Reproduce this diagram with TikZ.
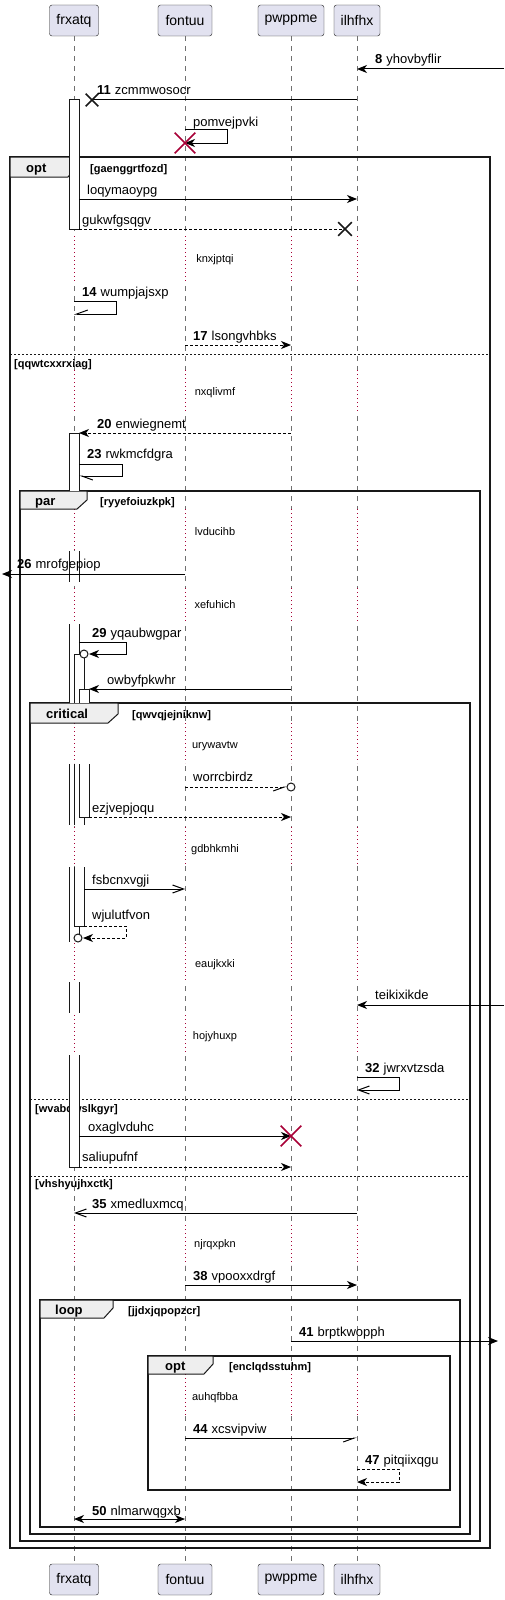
\documentclass[tikz,border=0pt]{standalone}
\usepackage{fontspec}
\setmainfont{Liberation Sans}
\usetikzlibrary{arrows.meta,shapes.misc}
\definecolor{partfill}{HTML}{E2E2F0}
\definecolor{partline}{HTML}{181818}
\definecolor{delayred}{HTML}{A80036}
\definecolor{tabfill}{HTML}{EEEEEE}
\definecolor{lifegray}{HTML}{707070}
\newcommand{\actbar}[4]{\fill[white] (#1,#3) rectangle (#2,#4); \draw[actline] (#1,#3) -- (#1,#4) (#2,#3) -- (#2,#4);}

\begin{document}
\begin{tikzpicture}[x=1pt,y=-1pt,
    part/.style={draw=partline, fill=partfill, rounded corners=2.5pt, minimum height=31pt, inner sep=0pt, font=\fontsize{14}{16}\selectfont},
    lifeline/.style={draw=lifegray, line width=0.6pt, dash pattern=on 5pt off 5pt},
    delayline/.style={draw=delayred, line width=0.8pt, dash pattern=on 0.8pt off 3.2pt},
    frame/.style={draw=partline, line width=1.5pt},
    tab/.style={draw=partline, fill=tabfill, line width=1pt},
    sep/.style={draw=partline, line width=0.8pt, dash pattern=on 2pt off 2pt},
    actline/.style={draw=partline, line width=1pt},
    msg/.style={line width=1pt, -{Stealth[length=10pt,width=8pt,inset=3pt]}},
    bimsg/.style={line width=1pt, {Stealth[length=10pt,width=8pt,inset=3pt]}-{Stealth[length=10pt,width=8pt,inset=3pt]}},
    openmsg/.style={line width=1pt, -{Straight Barb[length=11pt,width=8pt]}},
    halfmsg/.style={line width=1pt, -{Straight Barb[harpoon,length=11pt,width=8pt]}},
    halfmsgsw/.style={line width=1pt, -{Straight Barb[harpoon,swap,length=11pt,width=8pt]}},
    plainmsg/.style={line width=1pt},
    reply/.style={dash pattern=on 3pt off 2pt},
    xmark/.style={cross out, draw=partline, line width=1.6pt, minimum size=11pt, inner sep=0pt},
    kill/.style={cross out, draw=delayred, line width=1.6pt, minimum size=19pt, inner sep=0pt},
    lbl/.style={anchor=base west, inner sep=0pt, font=\fontsize{13}{15}\selectfont},
    dly/.style={anchor=base, inner sep=0pt, font=\fontsize{11}{13}\selectfont},
    grp/.style={anchor=base west, inner sep=0pt, font=\bfseries\fontsize{11}{13}\selectfont},
    tablbl/.style={anchor=base west, inner sep=0pt, font=\bfseries\fontsize{13}{15}\selectfont}]
    \useasboundingbox (0,0) rectangle (504,1600);

    \node[part, minimum width=49pt] (frxatq) at (74,20.5) {frxatq};
    \node[part, minimum width=54pt] (fontuu) at (185,20.5) {fontuu};
    \node[part, minimum width=66pt] (pwppme) at (291,20.5) {pwppme};
    \node[part, minimum width=46pt] (ilhfhx) at (357,20.5) {ilhfhx};
    \node[part, minimum width=49pt] (frxatq-b) at (74,1579.5) {frxatq};
    \node[part, minimum width=54pt] (fontuu-b) at (185,1579.5) {fontuu};
    \node[part, minimum width=66pt] (pwppme-b) at (291,1579.5) {pwppme};
    \node[part, minimum width=46pt] (ilhfhx-b) at (357,1579.5) {ilhfhx};

    \foreach \p in {frxatq,fontuu,pwppme,ilhfhx}
        \draw[lifeline] (\p.south) -- (\p-b.north);
    \foreach \ya/\yb in {236/283,370/412,509/550,588/623,723/763,827/866,943/982,1015/1054,1225/1265,1374/1415}
        \foreach \p in {frxatq,fontuu,pwppme,ilhfhx}
        {
            \draw[white, line width=2pt] (\p |- 0,\ya) -- (\p |- 0,\yb);
            \draw[delayline] (\p |- 0,\ya) -- (\p |- 0,\yb);
        }

    \draw[frame] (10,157) rectangle (490,1548);
    \draw[frame] (20,491) rectangle (480,1541);
    \draw[frame] (30,703) rectangle (470,1534);
    \draw[frame] (40,1300) rectangle (460,1527);
    \draw[frame] (148,1356) rectangle (450,1490);
    \draw[sep] (10,354) -- (490,354);
    \draw[sep] (30,1099) -- (470,1099);
    \draw[sep] (30,1176) -- (470,1176);
    \filldraw[tab] (10,157) -- (76,157) -- (76,168) -- (68,177) -- (10,177) -- cycle;
    \filldraw[tab] (20,491) -- (87,491) -- (87,500) -- (77,509) -- (20,509) -- cycle;
    \filldraw[tab] (30,703) -- (118,703) -- (118,714) -- (108,723) -- (30,723) -- cycle;
    \filldraw[tab] (40,1300) -- (113,1300) -- (113,1308) -- (104,1318) -- (40,1318) -- cycle;
    \filldraw[tab] (148,1356) -- (213,1356) -- (213,1364) -- (204,1374) -- (148,1374) -- cycle;
    \node[tablbl] at (26,172) {opt};
    \node[grp] at (90,172) {[gaenggrtfozd]};
    \node[grp] at (14,367) {[qqwtcxxrxiag]};
    \node[tablbl] at (35,505) {par};
    \node[grp] at (100,505) {[ryyefoiuzkpk]};
    \node[tablbl] at (46,718) {critical};
    \node[grp] at (132,718) {[qwvqjejniknw]};
    \node[grp] at (35,1112) {[wvabdwslkgyr]};
    \node[grp] at (35,1187) {[vhshyujhxctk]};
    \node[tablbl] at (55,1314) {loop};
    \node[grp] at (128,1314) {[jjdxjqpopzcr]};
    \node[tablbl] at (165,1370) {opt};
    \node[grp] at (229,1370) {[enclqdsstuhm]};

    \filldraw[actline, fill=white] (69,100) rectangle (79,229);
    \actbar{69}{79}{433}{491}
    \draw[actline] (69,433) -- (79,433);
    \actbar{69}{79}{551}{582}
    \actbar{69}{79}{624}{703}
    \actbar{74}{84}{654}{703}
    \draw[actline] (74,654) -- (84,654);
    \actbar{79}{89}{689}{703}
    \draw[actline] (79,689) -- (89,689);
    \actbar{69}{79}{764}{825}
    \actbar{74}{84}{764}{825}
    \actbar{79}{89}{764}{817}
    \draw[actline] (79,817) -- (89,817);
    \actbar{69}{79}{867}{942}
    \actbar{74}{84}{867}{926}
    \draw[actline] (74,926) -- (84,926);
    \actbar{69}{79}{982}{1013}
    \actbar{69}{79}{1055}{1167}
    \draw[actline] (69,1167) -- (79,1167);

    \node[dly] (d1) at (215,262) {knxjptqi};
    \node[dly] (d2) at (215,395) {nxqlivmf};
    \node[dly] (d3) at (215,535) {lvducihb};
    \node[dly] (d4) at (215,608) {xefuhich};
    \node[dly] (d5) at (215,748) {urywavtw};
    \node[dly] (d6) at (215,852) {gdbhkmhi};
    \node[dly] (d7) at (215,967) {eaujkxki};
    \node[dly] (d8) at (215,1039) {hojyhuxp};
    \node[dly] (d9) at (215,1247) {njrqxpkn};
    \node[dly] (d10) at (215,1400) {auhqfbba};

    \path (504,69) coordinate (m8s) (ilhfhx |- m8s) coordinate (m8t);
    \draw[msg] (m8s) -- (m8t);
    \node[lbl] at (375,64) {\textbf{8}\hspace{4pt}yhovbyflir};

    \path (ilhfhx |- 0,100) coordinate (m11s) (92,100) coordinate (m11t);
    \draw[plainmsg] (m11s) -- (m11t);
    \node[xmark] at (m11t) {};
    \node[lbl] at (97,95) {\textbf{11}\hspace{4pt}zcmmwosocr};

    \path (fontuu |- 0,130) coordinate (m12s) (fontuu |- 0,143) coordinate (m12t);
    \draw[msg] (m12s) -- ++(42,0) |- (m12t);
    \node[kill] at (m12t) {};
    \node[lbl] at (193,127) {pomvejpvki};

    \path (79,199) coordinate (m13s) (ilhfhx |- m13s) coordinate (m13t);
    \draw[msg] (m13s) -- (m13t);
    \node[lbl] at (87,194) {loqymaoypg};

    \path (79,229) coordinate (m13bs) (345,229) coordinate (m13bt);
    \draw[plainmsg, reply] (m13bs) -- (m13bt);
    \node[xmark, minimum size=12pt] at (m13bt) {};
    \node[lbl] at (82,224) {gukwfgsqgv};

    \path (frxatq |- 0,301) coordinate (m14s) (frxatq |- 0,314) coordinate (m14t);
    \draw[halfmsgsw] (m14s) -- ++(42,0) |- (m14t);
    \node[lbl] at (82,296) {\textbf{14}\hspace{4pt}wumpjajsxp};

    \path (fontuu |- 0,345) coordinate (m17s) (pwppme |- m17s) coordinate (m17t);
    \draw[msg, reply] (m17s) -- (m17t);
    \node[lbl] at (193,340) {\textbf{17}\hspace{4pt}lsongvhbks};

    \path (pwppme |- 0,433) coordinate (m20s) (79,433) coordinate (m20t);
    \draw[msg, reply] (m20s) -- (m20t);
    \node[lbl] at (97,428) {\textbf{20}\hspace{4pt}enwiegnemt};

    \path (79,464) coordinate (m23s) (79,476) coordinate (m23t);
    \draw[halfmsg] (m23s) -- ++(43,0) |- (m23t);
    \node[lbl] at (87,458) {\textbf{23}\hspace{4pt}rwkmcfdgra};

    \path (fontuu |- 0,574) coordinate (m26s) (2,574) coordinate (m26t);
    \draw[msg] (m26s) -- (m26t);
    \node[lbl] at (17,568) {\textbf{26}\hspace{4pt}mrofgepiop};

    \path (79,642) coordinate (m29s) (89,654) coordinate (m29t);
    \draw[msg] (m29s) -- ++(47,0) |- (m29t);
    \draw[actline, fill=white] (84,654) circle[radius=4pt];
    \node[lbl] at (92,637) {\textbf{29}\hspace{4pt}yqaubwgpar};

    \path (pwppme |- 0,689) coordinate (m30s) (89,689) coordinate (m30t);
    \draw[msg] (m30s) -- (m30t);
    \node[lbl] at (107,684) {owbyfpkwhr};

    \path (fontuu |- 0,787) coordinate (m31s) (287,787) coordinate (m31t);
    \draw[halfmsgsw, reply] (m31s) -- (m31t);
    \draw[actline, fill=white] (pwppme |- m31t) circle[radius=4pt];
    \node[lbl] at (193,781) {worrcbirdz};

    \path (89,817) coordinate (m31bs) (pwppme |- m31bs) coordinate (m31bt);
    \draw[msg, reply] (m31bs) -- (m31bt);
    \node[lbl] at (92,812) {ezjvepjoqu};

    \path (84,889) coordinate (m31cs) (fontuu |- m31cs) coordinate (m31ct);
    \draw[openmsg] (m31cs) -- (m31ct);
    \node[lbl] at (92,884) {fsbcnxvgji};

    \path (84,926) coordinate (m31ds) (83,938) coordinate (m31dt);
    \draw[msg, reply] (m31ds) -- ++(42,0) |- (m31dt);
    \draw[actline, fill=white] (78,938) circle[radius=4pt];
    \node[lbl] at (92,919) {wjulutfvon};

    \path (504,1005) coordinate (m31es) (ilhfhx |- m31es) coordinate (m31et);
    \draw[msg] (m31es) -- (m31et);
    \node[lbl] at (375,999) {teikixikde};

    \path (ilhfhx |- 0,1077) coordinate (m32s) (ilhfhx |- 0,1090) coordinate (m32t);
    \draw[openmsg] (m32s) -- ++(42,0) |- (m32t);
    \node[lbl] at (365,1072) {\textbf{32}\hspace{4pt}jwrxvtzsda};

    \path (79,1136) coordinate (m33s) (pwppme |- m33s) coordinate (m33t);
    \draw[msg] (m33s) -- (m33t);
    \node[kill] at (m33t) {};
    \node[lbl] at (88,1131) {oxaglvduhc};

    \path (79,1167) coordinate (m34s) (pwppme |- m34s) coordinate (m34t);
    \draw[msg, reply] (m34s) -- (m34t);
    \node[lbl] at (82,1161) {saliupufnf};

    \path (ilhfhx |- 0,1213) coordinate (m35s) (frxatq |- m35s) coordinate (m35t);
    \draw[openmsg] (m35s) -- (m35t);
    \node[lbl] at (92,1208) {\textbf{35}\hspace{4pt}xmedluxmcq};

    \path (fontuu |- 0,1285) coordinate (m38s) (ilhfhx |- m38s) coordinate (m38t);
    \draw[msg] (m38s) -- (m38t);
    \node[lbl] at (193,1280) {\textbf{38}\hspace{4pt}vpooxxdrgf};

    \path (pwppme |- 0,1341) coordinate (m41s) (498,1341) coordinate (m41t);
    \draw[msg] (m41s) -- (m41t);
    \node[lbl] at (299,1336) {\textbf{41}\hspace{4pt}brptkwopph};

    \path (fontuu |- 0,1438) coordinate (m44s) (ilhfhx |- m44s) coordinate (m44t);
    \draw[halfmsgsw] (m44s) -- (m44t);
    \node[lbl] at (193,1433) {\textbf{44}\hspace{4pt}xcsvipviw};

    \path (ilhfhx |- 0,1469) coordinate (m47s) (ilhfhx |- 0,1482) coordinate (m47t);
    \draw[msg, reply] (m47s) -- ++(42,0) |- (m47t);
    \node[lbl] at (365,1464) {\textbf{47}\hspace{4pt}pitqiixqgu};

    \path (frxatq |- 0,1519) coordinate (m50s) (fontuu |- m50s) coordinate (m50t);
    \draw[bimsg] (m50s) -- (m50t);
    \node[lbl] at (92,1515) {\textbf{50}\hspace{4pt}nlmarwqgxb};
\end{tikzpicture}
\end{document}
